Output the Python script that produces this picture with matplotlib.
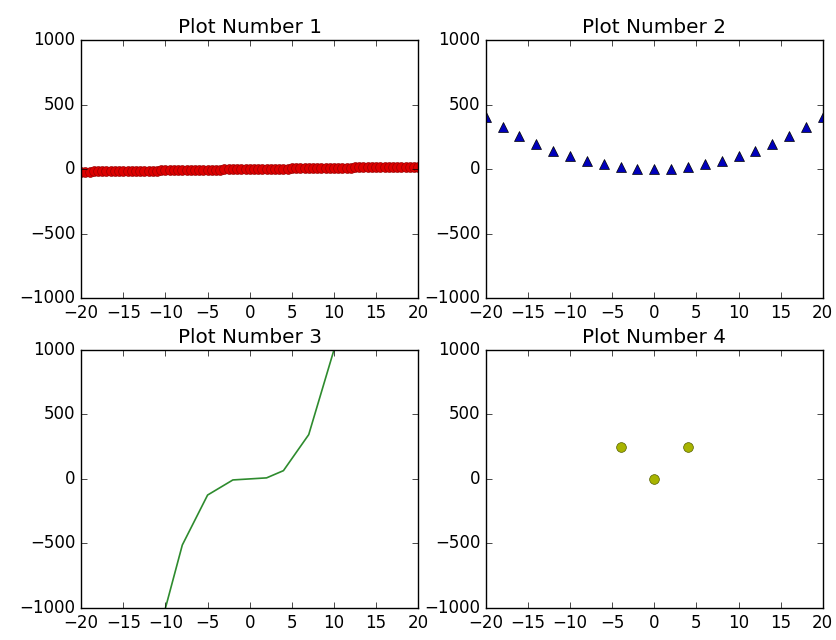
import matplotlib
matplotlib.use('Agg')
import matplotlib.pyplot as plt

plt.style.use('classic')

# plot 1 - straight line of red circles (dense, half unit spacing)
x1 = [-20, -19.5, -19, -18.5, -18, -17.5, -17, -16.5, -16, -15.5, -15, -14.5, -14, -13.5,
      -13, -12.5, -12, -11.5, -11, -10.5, -10, -9.5, -9, -8.5, -8, -7.5, -7, -6.5, -6, -5.5,
      -5, -4.5, -4, -3.5, -3, -2.5, -2, -1.5, -1, -0.5, 0, 0.5, 1, 1.5, 2, 2.5, 3, 3.5, 4,
      4.5, 5, 5.5, 6, 6.5, 7, 7.5, 8, 8.5, 9, 9.5, 10, 10.5, 11, 11.5, 12, 12.5, 13, 13.5,
      14, 14.5, 15, 15.5, 16, 16.5, 17, 17.5, 18, 18.5, 19, 19.5, 20]
y1 = [-20, -19.5, -19, -18.5, -18, -17.5, -17, -16.5, -16, -15.5, -15, -14.5, -14, -13.5,
      -13, -12.5, -12, -11.5, -11, -10.5, -10, -9.5, -9, -8.5, -8, -7.5, -7, -6.5, -6, -5.5,
      -5, -4.5, -4, -3.5, -3, -2.5, -2, -1.5, -1, -0.5, 0, 0.5, 1, 1.5, 2, 2.5, 3, 3.5, 4,
      4.5, 5, 5.5, 6, 6.5, 7, 7.5, 8, 8.5, 9, 9.5, 10, 10.5, 11, 11.5, 12, 12.5, 13, 13.5,
      14, 14.5, 15, 15.5, 16, 16.5, 17, 17.5, 18, 18.5, 19, 19.5, 20]

# plot 2 - parabola of triangles
x2 = [-20, -18, -16, -14, -12, -10, -8, -6, -4, -2, 0, 2, 4, 6, 8, 10, 12, 14, 16, 18, 20]
y2 = [400, 324, 256, 196, 144, 100, 64, 36, 16, 4, 0, 4, 16, 36, 64, 100, 144, 196, 256, 324, 400]

# plot 3 - cubic line
x3 = [-10, -8, -5, -2, 0, 2, 4, 7, 10]
y3 = [-1000, -512, -125, -8, 0, 8, 64, 343, 1000]

# plot 4 - three points
x4 = [-4, 0, 4]
y4 = [250, 0, 250]

titles = ['Plot Number 1', 'Plot Number 2', 'Plot Number 3', 'Plot Number 4']

fig = plt.figure(figsize=(8.37, 6.4), dpi=100)
fig.subplots_adjust(left=0.097, right=0.983, top=0.9375, bottom=0.05, wspace=0.2, hspace=0.2)

ax = fig.add_subplot(2, 2, 1)
ax.plot(x1, y1, 'o', color='#dd0000', markeredgecolor='#990000', markersize=7)

ax = fig.add_subplot(2, 2, 2)
ax.plot(x2, y2, '^', color='#0000bb', markeredgecolor='black', markersize=7)

ax = fig.add_subplot(2, 2, 3)
ax.plot(x3, y3, '-', color='#2e8b2e', linewidth=1.2)

ax = fig.add_subplot(2, 2, 4)
ax.plot(x4, y4, 'o', color='#a8b400', markeredgecolor='#556000', markersize=7)

for i, a in enumerate(fig.axes):
        a.set_xlim(-20, 20)
        a.set_ylim(-1000, 1000)
        a.set_xticks([-20, -15, -10, -5, 0, 5, 10, 15, 20])
        a.set_yticks([-1000, -500, 0, 500, 1000])
        a.set_title(titles[i])

fig.savefig('out.png', dpi=100)
